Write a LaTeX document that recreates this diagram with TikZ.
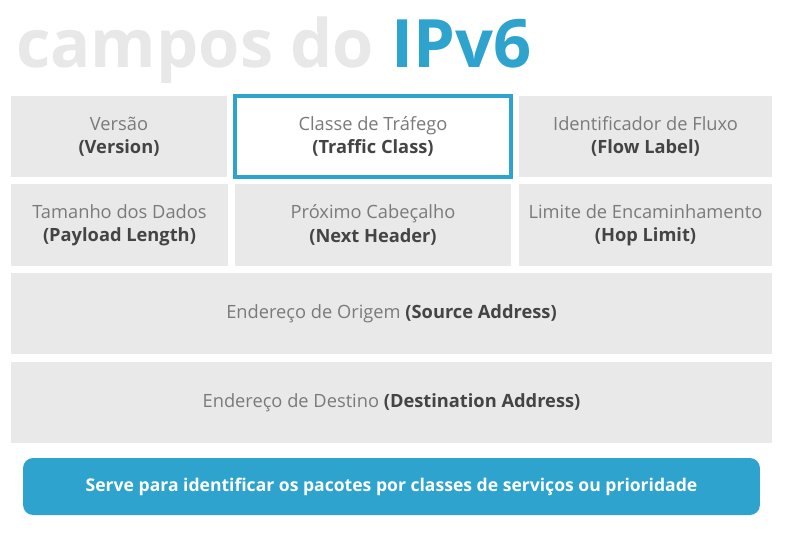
\documentclass[tikz,border=0pt]{standalone}
\usepackage{fontspec}
\setmainfont{Open Sans}
\usetikzlibrary{positioning}
\definecolor{cellgray}{HTML}{E9E9E9}
\definecolor{ipblue}{HTML}{2EA3CE}
\definecolor{txtgray}{HTML}{7A7A7A}
\definecolor{txtdark}{HTML}{444444}
\definecolor{titlegray}{HTML}{E8E8E8}
\newcommand{\en}[1]{\textcolor{txtdark}{\bfseries #1}}
\tikzset{
  cell/.style={fill=cellgray, align=center, text=txtgray, inner sep=2pt,
               font=\fontsize{10.4}{13.2}\selectfont, minimum height=1.62cm},
  hilite/.style={cell, fill=white, draw=ipblue, line width=2.3pt},
  banner/.style={fill=ipblue, rounded corners=0.2cm, text=white,
                 font=\fontsize{10}{13}\selectfont\bfseries,
                 minimum width=14.74cm, minimum height=1.14cm}
}

\begin{document}
\begin{tikzpicture}[x=0.02cm, y=-0.02cm]
    \useasboundingbox (0,0) rectangle (804,552);
    \node[anchor=base west, inner sep=0pt, font=\fontsize{38}{40}\selectfont\bfseries]
      (title) at (16,67) {\textcolor{titlegray}{campos do} \textcolor{ipblue}{IPv6}};
    % first row
    \node[cell, minimum width=4.32cm] (version) at (119,136.5) {Versão\\\en{(Version)}};
    \node[hilite, minimum width=5.52cm] (traffic) at (373,136.5) {Classe de Tráfego\\\en{(Traffic Class)}};
    \node[cell, minimum width=5.06cm] (flow) at (645.5,136.5) {Identificador de Fluxo\\\en{(Flow Label)}};
    % second row
    \node[cell, minimum width=4.34cm, minimum height=1.64cm] (payload) at (119.5,225) {Tamanho dos Dados\\\en{(Payload Length)}};
    \node[cell, minimum width=5.52cm, minimum height=1.64cm] (next) at (373,225) {Próximo Cabeçalho\\\en{(Next Header)}};
    \node[cell, minimum width=5.06cm, minimum height=1.64cm] (hop) at (645.5,225) {Limite de Encaminhamento\\\en{(Hop Limit)}};
    % addresses
    \node[cell, minimum width=15.22cm] (source) at (391.5,313.5) {Endereço de Origem \en{(Source Address)}};
    \node[cell, minimum width=15.22cm] (dest) at (391.5,402.5) {Endereço de Destino \en{(Destination Address)}};
    \node[banner] (note) at (391.5,486.5) {Serve para identificar os pacotes por classes de serviços ou prioridade};
\end{tikzpicture}
\end{document}
